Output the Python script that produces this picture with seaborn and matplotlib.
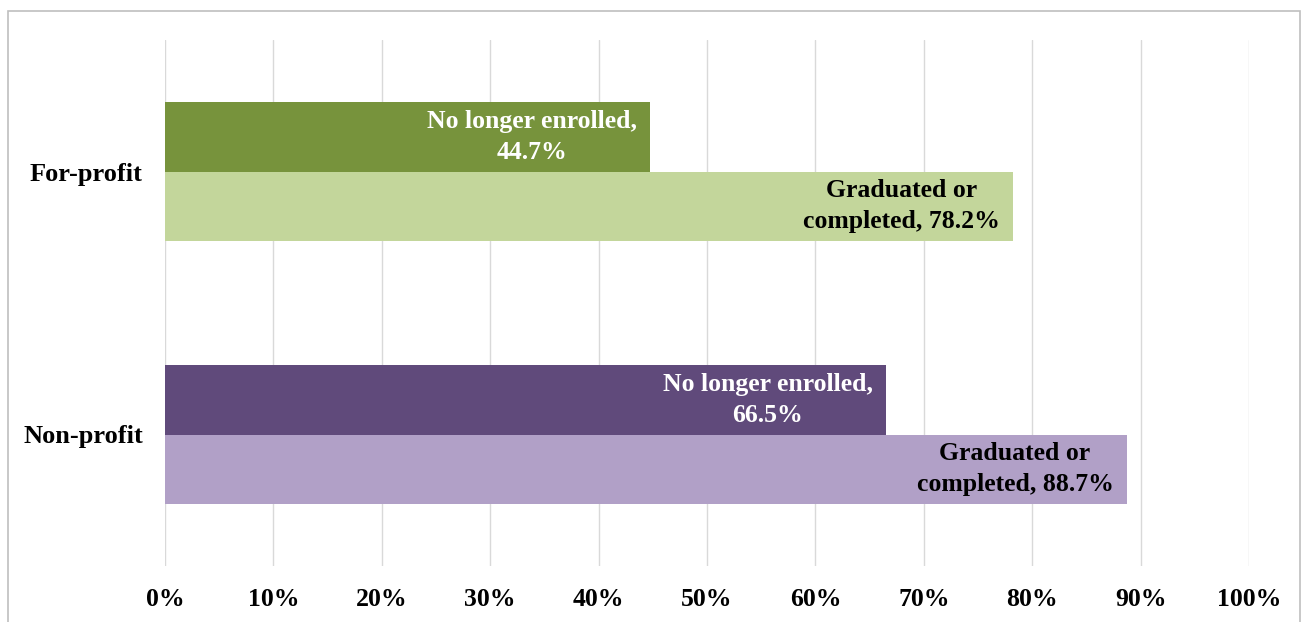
import matplotlib
matplotlib.use("Agg")
import matplotlib.pyplot as plt
import seaborn as sns
import pandas as pd
from matplotlib.patches import Rectangle

categories = ["For-profit", "Non-profit"]
statuses = ["No longer enrolled", "Graduated or completed"]
no_longer_enrolled = [44.7, 66.5]
graduated = [78.2, 88.7]
labels_no_longer = ["No longer enrolled,\n44.7%", "No longer enrolled,\n66.5%"]
labels_graduated = ["Graduated or\ncompleted, 78.2%", "Graduated or\ncompleted, 88.7%"]
x_ticks = [0, 10, 20, 30, 40, 50, 60, 70, 80, 90, 100]
x_tick_labels = [f"{t}%" for t in x_ticks]

palettes = {
    "For-profit": ["#77933C", "#C3D69B"],
    "Non-profit": ["#604A7B", "#B1A0C7"],
}
text_colors = ["white", "black"]

rows = []
for i, c in enumerate(categories):
    rows.append({"cat": c, "status": statuses[0], "value": no_longer_enrolled[i], "label": labels_no_longer[i]})
    rows.append({"cat": c, "status": statuses[1], "value": graduated[i], "label": labels_graduated[i]})
df = pd.DataFrame(rows)

sns.set_theme(style="white")
plt.rcParams["font.family"] = ["Liberation Serif", "DejaVu Serif"]

fig = plt.figure(figsize=(13.1, 6.22), dpi=100)
ax = fig.add_axes([165 / 1310, 1 - 566 / 622, (1249 - 165) / 1310, (566 - 40) / 622])

for c in categories:
    sub = df[df["cat"] == c]
    sns.barplot(data=sub, x="value", y="cat", hue="status", order=categories,
                hue_order=statuses, palette=palettes[c], width=0.525,
                orient="h", ax=ax, legend=False, saturation=1, zorder=3,
                linewidth=0)

# annotate bars
for p in ax.patches:
    w = p.get_width()
    if w <= 0:
        continue
    yc = p.get_y() + p.get_height() / 2
    match = df[(df["value"] - w).abs() < 1e-6].iloc[0]
    tcolor = text_colors[statuses.index(match["status"])]
    ax.text(w - 1.2, yc, match["label"], ha="right", va="center",
            multialignment="center", color=tcolor, fontsize=18.5,
            fontweight="bold", zorder=4, linespacing=1.4)

ax.set_xlim(0, 100)
ax.set_ylim(1.5, -0.5)
ax.set_xticks(x_ticks)
ax.set_xticklabels(x_tick_labels, fontsize=18.5, fontweight="bold")
ax.set_yticks(range(len(categories)))
ax.set_yticklabels(categories, fontsize=19, fontweight="bold")
ax.set_xlabel("")
ax.set_ylabel("")
ax.tick_params(axis="x", length=0, pad=16, colors="black")
ax.tick_params(axis="y", length=0, pad=16, colors="black")
ax.xaxis.grid(True, color="#D9D9D9", linewidth=1, zorder=0)
ax.yaxis.grid(False)
for s in ax.spines.values():
    s.set_visible(False)

fig.patches.append(Rectangle((8 / 1310, -0.01), (1300 - 8) / 1310, 1 - 11 / 622 + 0.01,
                             transform=fig.transFigure, fill=False,
                             edgecolor="#BFBFBF", linewidth=1.2))

fig.savefig("out.png", dpi=100)
